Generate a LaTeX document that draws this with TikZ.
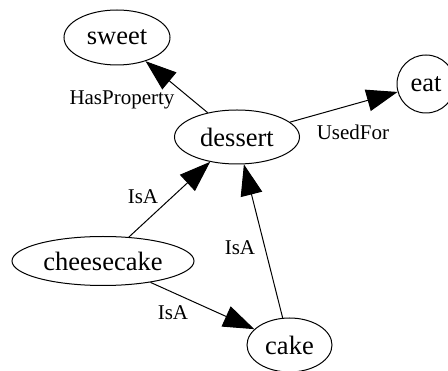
\documentclass[tikz,border=0pt]{standalone}
\usepackage{fontspec}
\setmainfont{Liberation Serif}
\usetikzlibrary{arrows.meta, shapes.geometric}

\tikzset{
  concept/.style={draw, ellipse, line width=1pt, inner sep=0pt, font=\fontsize{26.5}{30}\selectfont},
  rel/.style={-{Triangle[length=31pt,width=22pt]}, line width=1pt},
  rellabel/.style={font=\fontsize{21}{24}\selectfont}
}

\begin{document}
\begin{tikzpicture}[x=1pt,y=-1pt]
\useasboundingbox (0,0) rectangle (448,371);
\clip (0,0) rectangle (448,371);

% Concepts
\node[concept, minimum width=106pt, minimum height=55pt] (sweet) at (117,37.5) {sweet};
\node[concept, minimum width=58pt, minimum height=58pt] (eat) at (426,84) {eat};
\node[concept, minimum width=125pt, minimum height=54pt] (dessert) at (237,137) {dessert};
\node[concept, minimum width=182pt, minimum height=49pt] (cheesecake) at (103,261) {cheesecake};
\node[concept, minimum width=85pt, minimum height=54pt] (cake) at (289.5,345) {cake};

% Relations
\draw[rel] (dessert) -- (sweet);
\draw[rel] (dessert) -- (eat);
\draw[rel] (cheesecake) -- (dessert);
\draw[rel] (cake) -- (dessert);
\draw[rel] (cheesecake) -- (cake);

% Relation labels
\node[rellabel] (lhas) at (122,100) {HasProperty};
\node[rellabel] (lused) at (353,132) {UsedFor};
\node[rellabel] (lisa1) at (143,197) {IsA};
\node[rellabel] (lisa2) at (240,248) {IsA};
\node[rellabel] (lisa3) at (173,313) {IsA};

\end{tikzpicture}
\end{document}
